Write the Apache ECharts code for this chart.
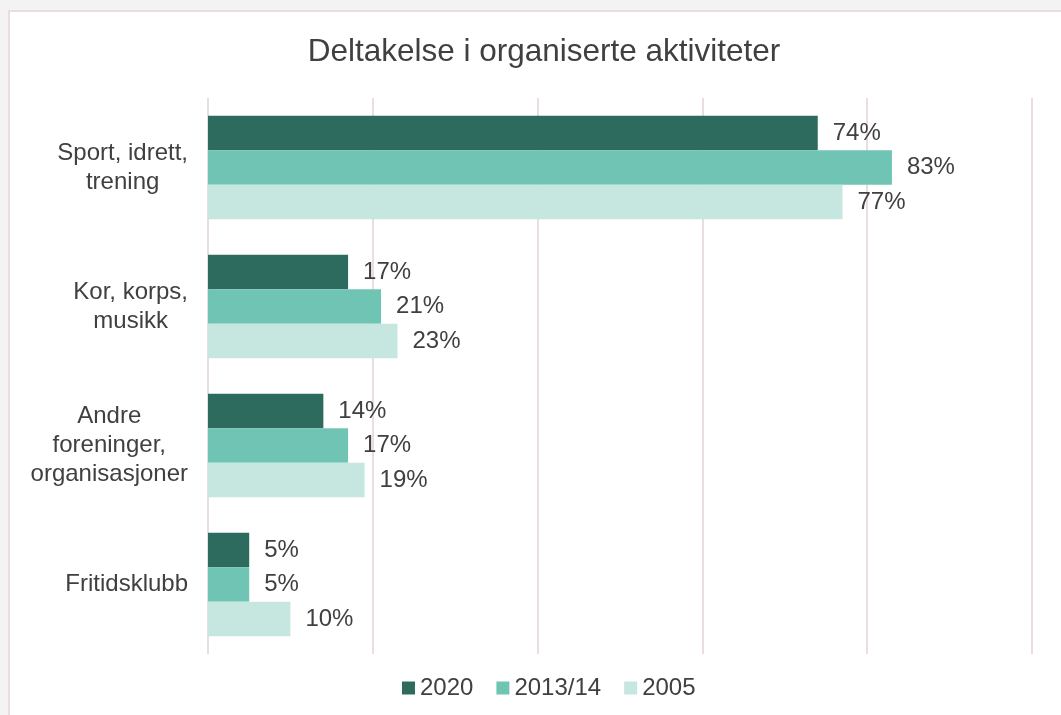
<!DOCTYPE html>
<html>
<head>
<meta charset="utf-8">
<script src="https://cdn.jsdelivr.net/npm/echarts@6/dist/echarts.min.js"></script>
<style>
    html, body { margin: 0; padding: 0; width: 1061px; height: 715px; overflow: hidden; background: #f3f3f3; }
    #frame { position: absolute; left: 8px; top: 10px; width: 1100px; height: 800px; background: #fff; border-left: 2px solid #eadde2; border-top: 2px solid #eadde2; }
    #chart { position: absolute; left: 0; top: 0; width: 1061px; height: 715px; }
</style>
</head>
<body>
<div id="frame"></div>
<div id="chart"></div>
<script>
    const categories = ['Sport, idrett,\ntrening', 'Kor, korps,\nmusikk', 'Andre\nforeninger,\norganisasjoner', 'Fritidsklubb'];
    const seriesNames = ['2020', '2013/14', '2005'];
    const values2020 = [74, 17, 14, 5];
    const values2013 = [83, 21, 17, 5];
    const values2005 = [77, 23, 19, 10];
    const xTicks = [0, 20, 40, 60, 80, 100];

    const colors = ['#2e6b5f', '#70c4b3', '#c6e7e0'];
    const textColor = '#404040';
    const font = 'Liberation Sans';

    function makeSeries (name, data, color) {
        return {
            name: name,
            type: 'bar',
            data: data,
            barGap: '0%',
            barCategoryGap: '25.6%',
            itemStyle: { color: color },
            label: {
                show: true,
                position: 'right',
                distance: 15,
                formatter: '{c}%',
                color: textColor,
                fontSize: 24,
                fontFamily: font
            }
        };
    }

    const option = {
        animation: false,
        title: {
            text: 'Deltakelse i organiserte aktiviteter',
            left: 539,
            textAlign: 'center',
            top: 31,
            textStyle: { color: textColor, fontSize: 31.5, fontWeight: 'normal', fontFamily: font }
        },
        legend: {
            left: 402,
            top: 676,
            padding: 0,
            itemWidth: 13,
            itemHeight: 13,
            itemGap: 23,
            icon: 'rect',
            textStyle: { color: textColor, fontSize: 24, fontFamily: font }
        },
        grid: { left: 208, right: 29, top: 98, bottom: 61 },
        xAxis: {
            type: 'value',
            min: xTicks[0],
            max: xTicks[xTicks.length - 1],
            interval: xTicks[1] - xTicks[0],
            axisLabel: { show: false },
            axisLine: { show: false },
            axisTick: { show: false },
            splitLine: { lineStyle: { color: '#eadde2', width: 2 } }
        },
        yAxis: {
            type: 'category',
            inverse: true,
            data: categories,
            axisLine: { show: false },
            axisTick: { show: false },
            axisLabel: {
                margin: 20,
                align: 'right',
                formatter: function (v) {
                    return v.split('\n').map(function (l) { return '{c|' + l + '}'; }).join('\n');
                },
                rich: {
                    c: { align: 'center', color: textColor, fontSize: 24, fontFamily: font, lineHeight: 29 }
                }
            }
        },
        series: [
            makeSeries(seriesNames[0], values2020, colors[0]),
            makeSeries(seriesNames[1], values2013, colors[1]),
            makeSeries(seriesNames[2], values2005, colors[2])
        ]
    };

    const chart = echarts.init(document.getElementById('chart'));
    chart.setOption(option);
    window.addEventListener('resize', function () {
        chart.resize();
    });
</script>
</body>
</html>
